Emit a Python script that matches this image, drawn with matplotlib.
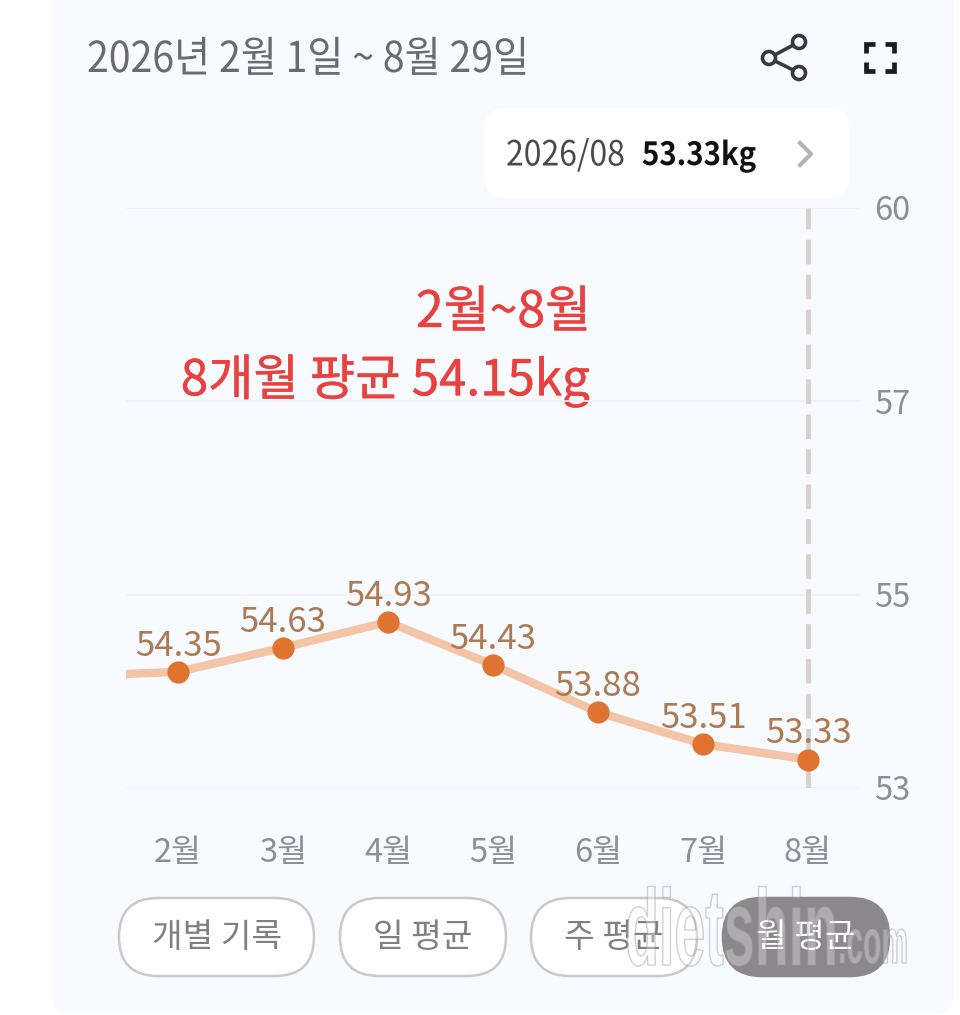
import matplotlib
matplotlib.use('Agg')
import matplotlib.pyplot as plt
import matplotlib.patheffects as pe
from matplotlib.patches import FancyBboxPatch, Circle
from matplotlib.transforms import Affine2D
import numpy as np

plt.rcParams['font.family'] = ['Noto Sans CJK KR', 'DejaVu Sans']

# 1월 is cut off at the left edge of the plot
months = ['1월', '2월', '3월', '4월', '5월', '6월', '7월', '8월']
weights = [54.30, 54.35, 54.63, 54.93, 54.43, 53.88, 53.51, 53.33]
ytick_labels = ['53', '55', '57', '60']
buttons = ['개별 기록', '일 평균', '주 평균', '월 평균']

W, H = 960, 1015
GREY = '#6b6b6d'
AXIS_GREY = '#8d8f94'
PANEL = '#f7faff'
RED = '#e8413f'


class Squeeze(pe.AbstractPathEffect):
    # stretch glyphs, the screenshot is a bit narrow
    def __init__(self, sx, sy=1.0):
        super().__init__()
        self.sx = sx
        self.sy = sy

    def draw_path(self, renderer, gc, tpath, affine, rgbFace=None):
        renderer.draw_path(gc, tpath, Affine2D().scale(self.sx, self.sy) + affine, rgbFace)


class Watermark(Squeeze):
    # pale fill with a grey rim
    def draw_path(self, renderer, gc, tpath, affine, rgbFace=None):
        aff = Affine2D().scale(self.sx, self.sy) + affine
        fill = renderer.new_gc()
        fill.copy_properties(gc)
        fill.set_alpha(0.3)
        renderer.draw_path(fill, tpath, aff, (1, 1, 1))
        rim = renderer.new_gc()
        rim.copy_properties(gc)
        rim.set_alpha(0.45)
        rim.set_foreground('#9a9a9e')
        rim.set_linewidth(1.0)
        renderer.draw_path(rim, tpath, aff, None)


fig = plt.figure(figsize=(W / 100, H / 100), dpi=100, facecolor='white')

# page furniture in pixel coordinates
ui = fig.add_axes([0, 0, 1, 1])
ui.set_xlim(0, W)
ui.set_ylim(H, 0)
ui.axis('off')

ui.add_patch(FancyBboxPatch((53, -40), 900, 1053, boxstyle='round,pad=0,rounding_size=14',
                            fc=PANEL, ec='none'))
ui.text(87, 60, '2026년 2월 1일 ~ 8월 29일', fontsize=30.7, color=GREY, va='center',
        path_effects=[Squeeze(0.92)])

# share icon
nodes = [(799, 42), (769, 58), (799, 73)]
ui.plot([n[0] for n in nodes], [n[1] for n in nodes], color='#3a3a3c', lw=2.6)
for n in nodes:
    ui.add_patch(Circle(n, 6.5, fc=PANEL, ec='#3a3a3c', lw=2.6, zorder=3))

# fullscreen icon
for cx, cy, dx, dy in [(866, 44, 1, 1), (894, 44, -1, 1), (866, 71, 1, -1), (894, 71, -1, -1)]:
    ui.plot([cx + 9 * dx, cx, cx], [cy, cy, cy + 9 * dy], color='#1c1c1e', lw=3.4,
            solid_joinstyle='miter', solid_capstyle='butt')

# tooltip
ui.add_patch(FancyBboxPatch((485, 108), 364, 90, boxstyle='round,pad=0,rounding_size=20',
                            fc='white', ec='none'))
ui.text(506, 156, '2026/08', fontsize=25, color='#4a4a4c', va='center', path_effects=[Squeeze(0.92)])
ui.text(642, 156, '53.33kg', fontsize=23, color='#111111', va='center', fontweight='bold',
        path_effects=[Squeeze(0.92)])
ui.plot([800, 811, 800], [143, 154, 165], color='#b4b4b8', lw=3)

# chart
ax = fig.add_axes([126 / W, 1 - 788 / H, (860 - 126) / W, (788 - 208) / H])
ax.patch.set_alpha(0)
x = np.arange(len(months))
ax.set_xlim(0.505, 7.495)
ax.set_ylim(53, 59.74)
# the app spaces its ticks evenly no matter what they say
yticks = np.linspace(53, 59.74, len(ytick_labels))
ax.set_yticks(yticks, ytick_labels)
ax.yaxis.tick_right()
ax.set_xticks(x[1:], months[1:])
ax.tick_params(axis='y', length=0, pad=10, labelsize=23.5, labelcolor=AXIS_GREY)
ax.tick_params(axis='x', length=0, pad=35, labelsize=23.5, labelcolor=AXIS_GREY)
ax.grid(axis='y', color='#f0f2f5', lw=1.2)
ax.set_axisbelow(True)
for s in ax.spines.values():
    s.set_visible(False)

ax.axvline(x[-1], color='#d5d0c8', lw=3.4, dashes=(5.2, 2.2), zorder=1)
ax.plot(x, weights, color='#f3c4a6', lw=6, zorder=2, solid_capstyle='butt')
ax.plot(x[1:], weights[1:], 'o', color='#e07330', ms=16, mec='none', zorder=3)
for xi, w in zip(x[1:], weights[1:]):
    ax.annotate('%.2f' % w, (xi, w), xytext=(0, 18.5), textcoords='offset points', ha='center',
                va='center', fontsize=25, color='#ad7a54', zorder=4, annotation_clip=False)

# red note, typed like this in the screenshot
heavier = [pe.withStroke(linewidth=0.3, foreground=RED)]
ui.text(591, 313, '2월~8월', fontsize=36, color=RED, va='center', ha='right', zorder=6,
        path_effects=heavier)
ui.text(590, 381, '8개월 퍙균 54.15kg', fontsize=35.5, color=RED, va='center', ha='right', zorder=6,
        path_effects=heavier)

# buttons
boxes = [(119, 314), (340, 506), (531, 697), (723, 889)]
for i, (name, (x0, x1)) in enumerate(zip(buttons, boxes)):
    on = i == len(buttons) - 1
    ui.add_patch(FancyBboxPatch((x0, 898), x1 - x0, 78, boxstyle='round,pad=0,rounding_size=39',
                                fc='#8a888a' if on else 'white', ec='#8a888a' if on else '#c9c9cb',
                                lw=1.8, zorder=5))
    ui.text((x0 + x1) / 2, 938, name, fontsize=24, ha='center', va='center', zorder=6,
            color='white' if on else '#808083')

# watermark
ui.text(625, 965, 'dietshin', fontsize=40, color='#b9b9bc', va='baseline', zorder=7, fontweight='bold',
        fontfamily=['Liberation Sans', 'DejaVu Sans'], path_effects=[Watermark(1.0, 1.95)])
ui.text(838, 963, '.com', fontsize=21.6, color='#b9b9bc', va='baseline', zorder=7, fontweight='bold',
        fontfamily=['Liberation Sans', 'DejaVu Sans'], path_effects=[Watermark(1.0, 2.1)])

fig.savefig('out.png', dpi=100)
